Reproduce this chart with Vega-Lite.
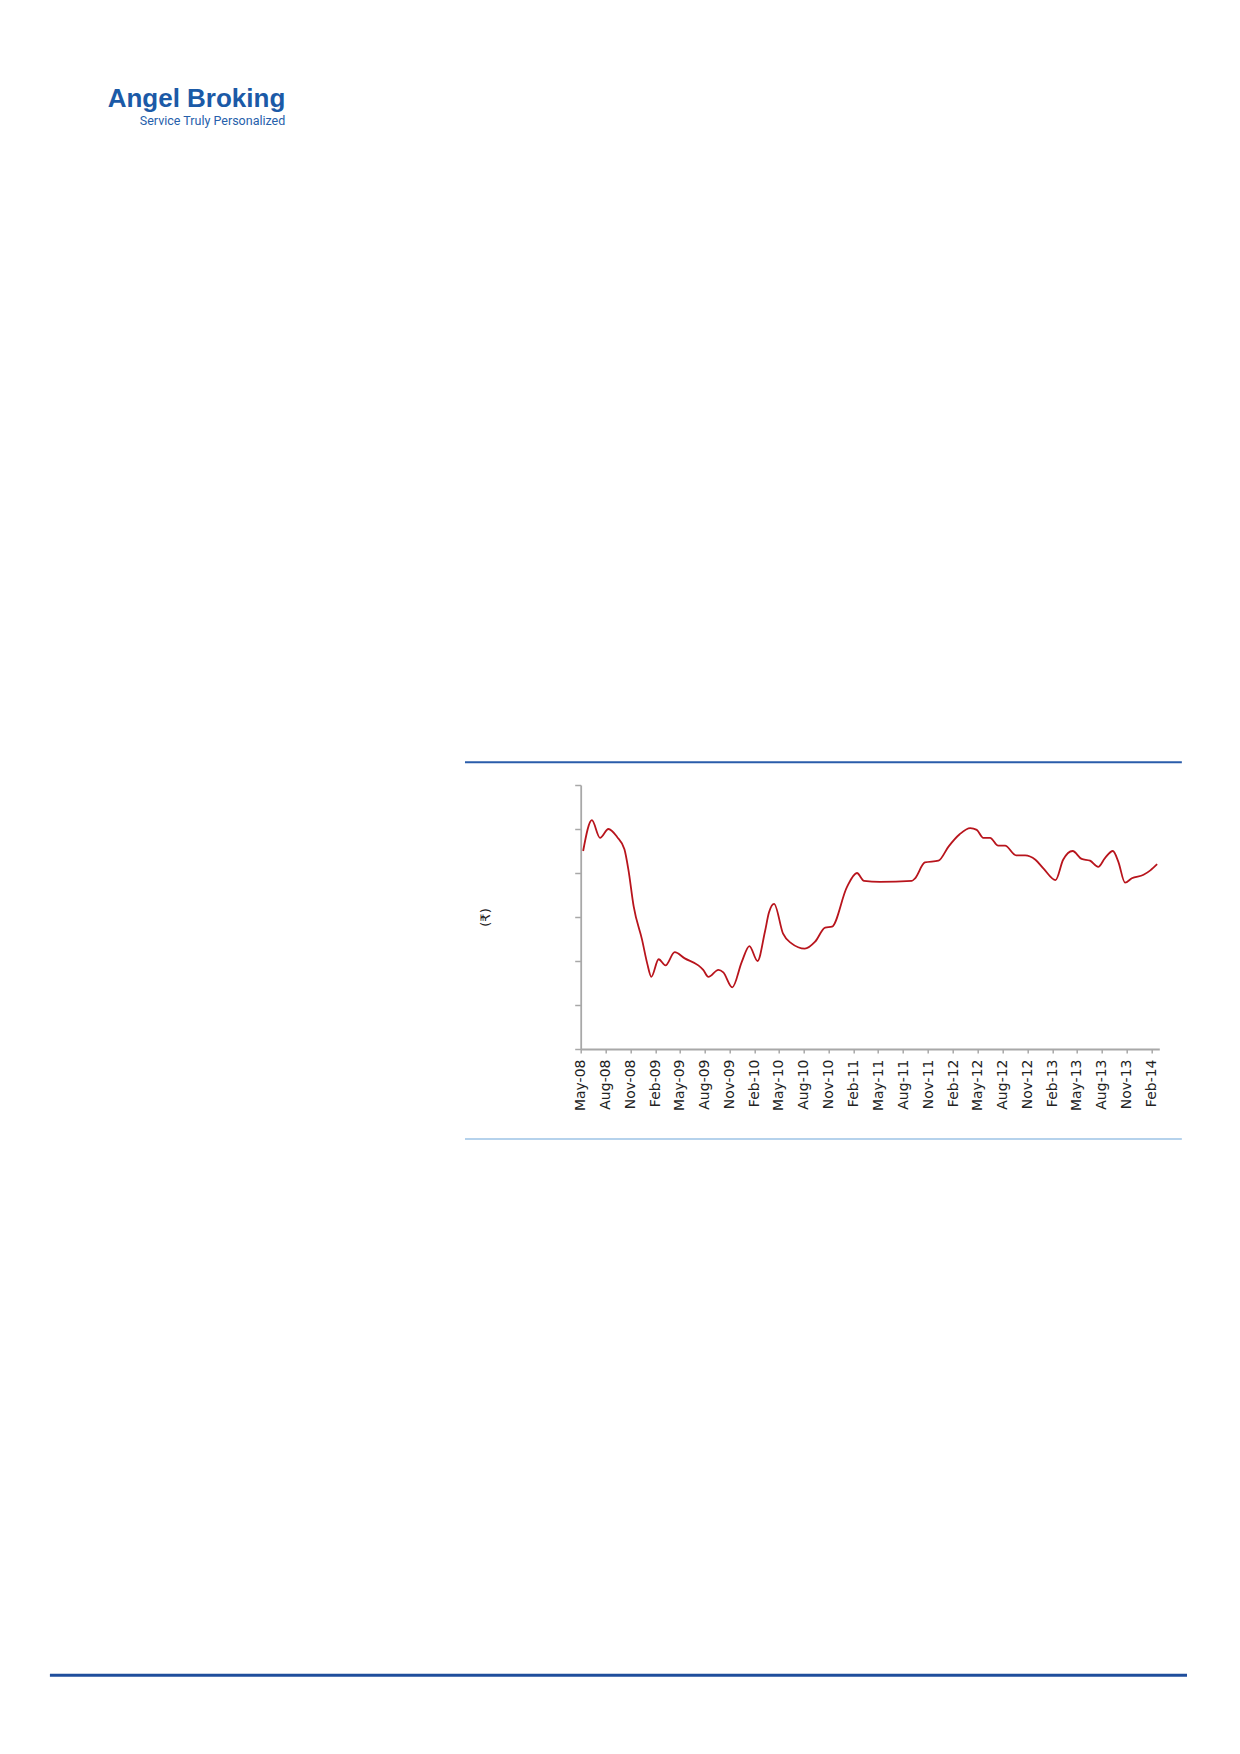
{
  "$schema": "https://vega.github.io/schema/vega-lite/v6.json",
  "autosize": {"type": "none"},
  "width": 578.6,
  "height": 264,
  "padding": {"left": 580.7, "top": 785, "right": 80.7, "bottom": 705},
  "background": "white",
  "config": {"view": {"stroke": null}},
  "resolve": {"axis": {"x": "independent", "y": "independent"}},
  "title": {
    "text": "Angel Broking",
    "subtitle": "Service Truly Personalized",
    "anchor": "end",
    "frame": "group",
    "dx": -874,
    "dy": -630,
    "font": "Liberation Sans",
    "fontSize": 26,
    "fontWeight": "bold",
    "color": "#1b5aa7",
    "subtitleFont": "Roboto",
    "subtitleFontSize": 12.5,
    "subtitleColor": "#2660ab",
    "subtitlePadding": 3
  },
  "data": {
    "values": [
      {"date": "2008-05-10", "price": 225},
      {"date": "2008-06-11", "price": 260},
      {"date": "2008-07-11", "price": 240},
      {"date": "2008-08-11", "price": 250},
      {"date": "2008-09-12", "price": 241},
      {"date": "2008-10-09", "price": 227},
      {"date": "2008-10-24", "price": 203},
      {"date": "2008-11-12", "price": 162},
      {"date": "2008-12-13", "price": 124},
      {"date": "2009-01-01", "price": 97},
      {"date": "2009-01-16", "price": 82},
      {"date": "2009-02-12", "price": 102},
      {"date": "2009-03-09", "price": 95},
      {"date": "2009-04-12", "price": 110},
      {"date": "2009-05-19", "price": 103},
      {"date": "2009-07-08", "price": 95},
      {"date": "2009-07-26", "price": 90},
      {"date": "2009-08-14", "price": 82},
      {"date": "2009-09-20", "price": 90},
      {"date": "2009-10-08", "price": 87},
      {"date": "2009-11-10", "price": 70},
      {"date": "2009-12-15", "price": 99},
      {"date": "2010-01-12", "price": 117},
      {"date": "2010-02-11", "price": 100},
      {"date": "2010-03-10", "price": 133},
      {"date": "2010-03-25", "price": 155},
      {"date": "2010-04-13", "price": 165},
      {"date": "2010-05-16", "price": 131},
      {"date": "2010-06-16", "price": 120},
      {"date": "2010-08-04", "price": 114},
      {"date": "2010-09-11", "price": 122},
      {"date": "2010-10-18", "price": 138},
      {"date": "2010-11-12", "price": 139},
      {"date": "2011-01-06", "price": 184},
      {"date": "2011-02-12", "price": 200},
      {"date": "2011-03-10", "price": 191},
      {"date": "2011-05-07", "price": 190},
      {"date": "2011-09-02", "price": 191},
      {"date": "2011-09-14", "price": 194},
      {"date": "2011-10-20", "price": 212},
      {"date": "2011-12-09", "price": 214},
      {"date": "2012-01-15", "price": 230},
      {"date": "2012-02-25", "price": 244},
      {"date": "2012-04-04", "price": 251},
      {"date": "2012-04-28", "price": 249},
      {"date": "2012-05-22", "price": 240},
      {"date": "2012-06-16", "price": 240},
      {"date": "2012-07-16", "price": 231},
      {"date": "2012-08-10", "price": 231},
      {"date": "2012-09-20", "price": 220},
      {"date": "2012-10-23", "price": 220},
      {"date": "2012-11-30", "price": 215},
      {"date": "2012-12-30", "price": 205},
      {"date": "2013-02-12", "price": 192},
      {"date": "2013-03-12", "price": 215},
      {"date": "2013-04-16", "price": 225},
      {"date": "2013-05-19", "price": 216},
      {"date": "2013-06-19", "price": 214},
      {"date": "2013-07-19", "price": 207},
      {"date": "2013-08-13", "price": 217},
      {"date": "2013-09-11", "price": 225},
      {"date": "2013-10-01", "price": 213},
      {"date": "2013-10-26", "price": 189},
      {"date": "2013-11-20", "price": 194},
      {"date": "2014-01-02", "price": 198},
      {"date": "2014-01-27", "price": 203},
      {"date": "2014-02-21", "price": 210}
    ]
  },
  "layer": [
    {
      "mark": {"type": "line", "interpolate": "monotone", "color": "#b8141c", "strokeWidth": 1.8},
      "encoding": {
        "x": {
          "field": "date",
          "type": "temporal",
          "scale": {"domain": [{"year": 2008, "month": 5, "date": 1}, {"year": 2014, "month": 3, "date": 1}], "nice": false},
          "axis": {
            "title": null,
            "values": [
              {"year": 2008, "month": 5, "date": 1}, {"year": 2008, "month": 8, "date": 1}, {"year": 2008, "month": 11, "date": 1},
              {"year": 2009, "month": 2, "date": 1}, {"year": 2009, "month": 5, "date": 1}, {"year": 2009, "month": 8, "date": 1}, {"year": 2009, "month": 11, "date": 1},
              {"year": 2010, "month": 2, "date": 1}, {"year": 2010, "month": 5, "date": 1}, {"year": 2010, "month": 8, "date": 1}, {"year": 2010, "month": 11, "date": 1},
              {"year": 2011, "month": 2, "date": 1}, {"year": 2011, "month": 5, "date": 1}, {"year": 2011, "month": 8, "date": 1}, {"year": 2011, "month": 11, "date": 1},
              {"year": 2012, "month": 2, "date": 1}, {"year": 2012, "month": 5, "date": 1}, {"year": 2012, "month": 8, "date": 1}, {"year": 2012, "month": 11, "date": 1},
              {"year": 2013, "month": 2, "date": 1}, {"year": 2013, "month": 5, "date": 1}, {"year": 2013, "month": 8, "date": 1}, {"year": 2013, "month": 11, "date": 1},
              {"year": 2014, "month": 2, "date": 1}
            ],
            "format": "%b-%y",
            "formatType": "time",
            "labelAngle": 270,
            "labelFont": "DejaVu Sans",
            "labelFontSize": 14,
            "labelColor": "#222222",
            "labelPadding": 6,
            "labelOverlap": false,
            "labelBound": false,
            "labelFlush": false,
            "tickSize": 4,
            "tickColor": "#a8a8a8",
            "tickWidth": 1.5,
            "domainColor": "#a8a8a8",
            "domainWidth": 1.8,
            "grid": false
          }
        },
        "y": {
          "field": "price",
          "type": "quantitative",
          "scale": {"domain": [0, 300], "nice": false, "zero": false},
          "axis": {
            "title": "(₹)",
            "titleFont": "DejaVu Sans",
            "titleFontSize": 13,
            "titleFontWeight": "normal",
            "titleColor": "#222222",
            "titlePadding": 81,
            "values": [0, 50, 100, 150, 200, 250, 300],
            "labels": false,
            "tickSize": 6,
            "tickColor": "#a8a8a8",
            "tickWidth": 1.5,
            "domainColor": "#a8a8a8",
            "domainWidth": 1.8,
            "grid": false
          }
        }
      }
    },
    {
      "data": {"values": [{}]},
      "mark": {"type": "rule", "color": "#2a5caa", "strokeWidth": 2},
      "encoding": {
        "x": {"datum": {"year": 2007, "month": 3, "date": 2}, "type": "temporal", "axis": null},
        "x2": {"datum": {"year": 2014, "month": 5, "date": 23}},
        "y": {"datum": 325.8, "type": "quantitative", "axis": null}
      }
    },
    {
      "data": {"values": [{}]},
      "mark": {"type": "rule", "color": "#9dc3e6", "strokeWidth": 1.3},
      "encoding": {
        "x": {"datum": {"year": 2007, "month": 3, "date": 2}, "type": "temporal", "axis": null},
        "x2": {"datum": {"year": 2014, "month": 5, "date": 23}},
        "y": {"datum": -102.3, "type": "quantitative", "axis": null}
      }
    },
    {
      "data": {"values": [{}]},
      "mark": {"type": "rule", "color": "#1f4e9c", "strokeWidth": 3},
      "encoding": {
        "x": {"datum": {"year": 2002, "month": 12, "date": 25}, "type": "temporal", "axis": null},
        "x2": {"datum": {"year": 2014, "month": 6, "date": 11}},
        "y": {"datum": -711.7, "type": "quantitative", "axis": null}
      }
    }
  ]
}
